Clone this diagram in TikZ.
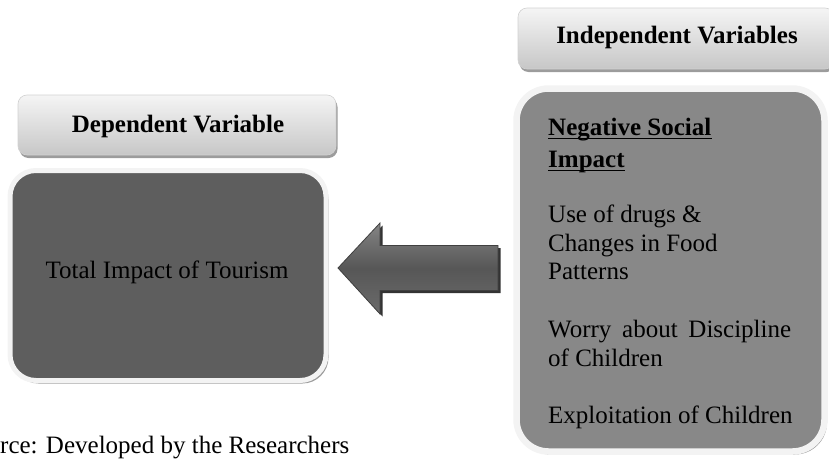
\documentclass[tikz,border=0pt]{standalone}
\usepackage{fontspec}
\setmainfont{Liberation Serif}
\usetikzlibrary{shadows}
\definecolor{darkfill}{HTML}{5E5E5E}
\definecolor{midfill}{HTML}{888888}
\definecolor{rimcol}{HTML}{F3F3F3}
\definecolor{shadcol}{HTML}{9C9C9C}
\tikzset{
  hdr/.style={rectangle, rounded corners=9pt, top color=white!96!black, bottom color=black!22,
    draw=black!18, line width=0.6pt, inner sep=0pt,
    drop shadow={shadow xshift=1.5pt, shadow yshift=-3pt, fill=shadcol, opacity=1}},
  mainbox/.style={rectangle, draw=rimcol, inner sep=0pt,
    drop shadow={shadow xshift=2.5pt, shadow yshift=-3pt, fill=shadcol, opacity=1}},
  txt/.style={inner sep=0pt, font=\fontsize{25}{29}\selectfont, text=black},
  btxt/.style={txt, font=\fontsize{25}{29}\selectfont\bfseries},
}
\begin{document}
\begin{tikzpicture}[x=1pt,y=-1pt]
\useasboundingbox (0,0) rectangle (829,458);
\clip (0,0) rectangle (829,458);
% headers
\node[hdr, minimum width=318pt, minimum height=60pt] (dhdr) at (177,125) {};
\node[hdr, minimum width=316pt, minimum height=61pt] (ihdr) at (676,38.5) {};
\node[btxt, anchor=base] (dhdrt) at (178,132) {Dependent Variable};
\node[btxt, anchor=base] (ihdrt) at (677,43) {Independent Variables};
% main boxes
\node[mainbox, fill=darkfill, line width=5pt, rounded corners=26pt,
  minimum width=316pt, minimum height=210pt] (dep) at (168,275.5) {};
\node[mainbox, fill=midfill, line width=6.5pt, rounded corners=32pt,
  minimum width=308pt, minimum height=363pt] (ind) at (670.5,270) {};
\node[txt, anchor=base] (dept) at (167,278) {Total Impact of Tourism};
% block arrow
\shade[top color=black!48, bottom color=black!58, middle color=black!66, draw=black!75, line width=0.8pt,
  drop shadow={shadow xshift=2.5pt, shadow yshift=-2.5pt, fill=black!80, opacity=1}]
  (338,268) -- (380,223) -- (380,245.5) -- (498,245.5) -- (498,290.5) -- (380,290.5) -- (380,314) -- cycle;
% right texts
\node[btxt, anchor=base west] (n1) at (548,135) {Negative Social};
\node[btxt, anchor=base west] (n2) at (548,167) {Impact};
\draw[line width=1.3pt] ([yshift=-3.5pt]n1.base west) -- ([yshift=-3.5pt]n1.base east);
\draw[line width=1.3pt] ([yshift=-3.5pt]n2.base west) -- ([yshift=-3.5pt]n2.base east);
\node[txt, anchor=base west] (u1) at (548,222) {Use of drugs \&};
\node[txt, anchor=base west] (u2) at (548,251) {Changes in Food};
\node[txt, anchor=base west] (u3) at (548,279) {Patterns};
\node[txt, anchor=base west] (w1) at (548,337) {\makebox[243pt][s]{Worry about Discipline}};
\node[txt, anchor=base west] (w2) at (548,366) {of Children};
\node[txt, anchor=base west] (e1) at (548,423) {Exploitation of Children};
% source
\node[txt, anchor=base west] (src) at (0,453) {rce: Developed by the Researchers};
\end{tikzpicture}
\end{document}
